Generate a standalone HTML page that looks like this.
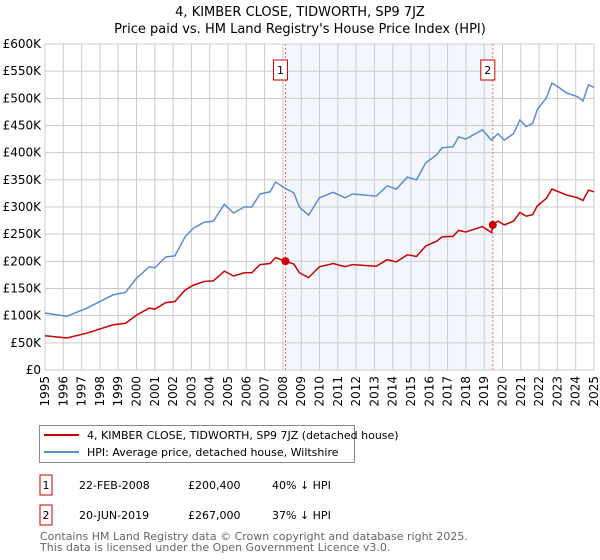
<!DOCTYPE html>
<html><head><meta charset="utf-8"><style>
body{margin:0;background:#fff;font-family:"Liberation Sans","DejaVu Sans",sans-serif;}
svg{display:block}
</style></head><body>
<svg width="600" height="560" viewBox="0 0 600 560" xmlns="http://www.w3.org/2000/svg" font-family="'DejaVu Sans','Liberation Sans',sans-serif">
<text x="300" y="16" text-anchor="middle" font-size="13" fill="#000">4, KIMBER CLOSE, TIDWORTH, SP9 7JZ</text>
<text x="300" y="33" text-anchor="middle" font-size="13" fill="#000">Price paid vs. HM Land Registry's House Price Index (HPI)</text>
<g id="plot"></g>
<g>
<rect x="39.5" y="425.5" width="315" height="37" fill="#fff" stroke="#888"/>
<line x1="44" y1="435" x2="79" y2="435" stroke="#cc0000" stroke-width="2"/>
<text x="87" y="439" font-size="11">4, KIMBER CLOSE, TIDWORTH, SP9 7JZ (detached house)</text>
<line x1="44" y1="452" x2="79" y2="452" stroke="#5b8dd0" stroke-width="2"/>
<text x="87" y="456" font-size="11">HPI: Average price, detached house, Wiltshire</text>
</g>
<g font-size="11">
<rect x="40" y="475" width="12" height="20" fill="#fff" stroke="#cc0000"/>
<text x="46" y="489" text-anchor="middle">1</text>
<text x="79" y="489">22-FEB-2008</text><text x="188" y="489">£200,400</text><text x="272" y="489">40% ↓ HPI</text>
<rect x="40" y="505" width="12" height="20" fill="#fff" stroke="#cc0000"/>
<text x="46" y="519" text-anchor="middle">2</text>
<text x="79" y="519">20-JUN-2019</text><text x="188" y="519">£267,000</text><text x="272" y="519">37% ↓ HPI</text>
</g>
<g font-size="11" fill="#666">
<text x="40" y="540">Contains HM Land Registry data © Crown copyright and database right 2025.</text>
<text x="40" y="551">This data is licensed under the Open Government Licence v3.0.</text>
</g>
</svg>
<script>
const hpiYears=[1995,1996.2,1997.3,1998.7,1999.4,2000.0,2000.7,2001.0,2001.6,2002.1,2002.65,2003.1,2003.7,2004.2,2004.8,2005.3,2005.9,2006.3,2006.75,2007.3,2007.6,2008.1,2008.6,2008.9,2009.4,2010.0,2010.75,2011.4,2011.8,2013.1,2013.7,2014.2,2014.8,2015.3,2015.8,2016.4,2016.7,2017.3,2017.6,2018.0,2018.9,2019.4,2019.75,2020.1,2020.6,2020.95,2021.3,2021.65,2021.9,2022.4,2022.7,2023.0,2023.5,2024.1,2024.4,2024.7,2025.0];
const hpiValues=[105,99,114,138,143,169,190,188,208,210,245,261,272,274,305,289,300,300,324,328,346,335,326,300,285,317,327,317,324,320,339,333,355,350,381,396,409,411,429,425,442,423,435,423,435,460,448,454,479,501,528,522,510,503,495,525,520];
const propYears=[1995,1996.2,1997.3,1998.7,1999.4,2000.0,2000.7,2001.0,2001.6,2002.1,2002.65,2003.1,2003.7,2004.2,2004.8,2005.3,2005.9,2006.3,2006.75,2007.3,2007.6,2008.14,2008.6,2008.9,2009.4,2010.0,2010.75,2011.4,2011.8,2013.1,2013.7,2014.2,2014.8,2015.3,2015.8,2016.4,2016.7,2017.3,2017.6,2018.0,2018.9,2019.4,2019.47,2019.75,2020.1,2020.6,2020.95,2021.3,2021.65,2021.9,2022.4,2022.7,2023.0,2023.5,2024.1,2024.4,2024.7,2025.0];
const propValues=[63,59,68,83,86,101,114,112,124,126,147,156,163,164,182,173,179,179,194,196,207,200,195,179,170,190,196,190,194,191,203,199,212,209,228,237,245,246,257,254,264,253,267,274,267,274,290,283,286,302,316,333,329,322,317,312,331,328];
const saleYears=[2008.14,2019.47];
const saleValues=[200.4,267];
const saleLabels=["1","2"];
const yTicks=[0,50,100,150,200,250,300,350,400,450,500,550,600];
const xTicks=[1995,1996,1997,1998,1999,2000,2001,2002,2003,2004,2005,2006,2007,2008,2009,2010,2011,2012,2013,2014,2015,2016,2017,2018,2019,2020,2021,2022,2023,2024,2025];

const X0=45,X1=594,Y0=370,Y1=44;
const xs=y=>X0+(y-1995)/30*(X1-X0);
const ys=v=>Y0-v/600*(Y0-Y1);
const NS="http://www.w3.org/2000/svg";
const g=document.getElementById('plot');
function mk(t,a){const e=document.createElementNS(NS,t);for(const k in a)e.setAttribute(k,a[k]);g.appendChild(e);return e;}
const sh=mk('rect',{x:xs(saleYears[0]),y:Y1,width:xs(saleYears[1])-xs(saleYears[0]),height:Y0-Y1,fill:'#eef3fc',opacity:0.7});


for(const t of yTicks){
 const l=mk('line',{x1:X0,x2:X1,y1:ys(t),y2:ys(t),stroke:'#ccc','stroke-width':1});
 
 
 const tx=mk('text',{x:X0-4,y:ys(t)+4,'text-anchor':'end','font-size':12,fill:'#000'});
 tx.textContent=t===0?'£0':'£'+t+'K';
 
 
}
for(const t of xTicks){
 const l=mk('line',{x1:xs(t),x2:xs(t),y1:Y1,y2:Y0,stroke:'#ccc','stroke-width':1});
 
 
 const tx=mk('text',{x:0,y:0,'text-anchor':'end','font-size':12,transform:`translate(${xs(t)+4},${Y0+6}) rotate(-90)`});
 tx.textContent=t;
 
 
}
const fr=mk('rect',{x:X0,y:Y1,width:X1-X0,height:Y0-Y1,fill:'none',stroke:'#ccc'});


saleYears.forEach((s,i)=>{
 const l=mk('line',{x1:xs(s),x2:xs(s),y1:Y1,y2:Y0,stroke:'#f07070','stroke-dasharray':'2,2'});
 
 
 const b=mk('rect',{x:xs(s)-7-5,y:60,width:14,height:20,fill:'#fff',stroke:'#cc0000'});
 
 
 const t=mk('text',{x:xs(s)-5,y:74,'text-anchor':'middle','font-size':11});
 t.textContent=saleLabels[i];
 
 
});
const hp=mk('polyline',{points:hpiYears.map((y,i)=>xs(y)+','+ys(hpiValues[i])).join(' '),fill:'none',stroke:'#5b8dd0','stroke-width':1.5});


const pp=mk('polyline',{points:propYears.map((y,i)=>xs(y)+','+ys(propValues[i])).join(' '),fill:'none',stroke:'#cc0000','stroke-width':1.5});


saleYears.forEach((s,i)=>{
 const c=mk('circle',{cx:xs(s),cy:ys(saleValues[i]),r:4,fill:'#cc0000'});
 
 
});
</script>
</body></html>
